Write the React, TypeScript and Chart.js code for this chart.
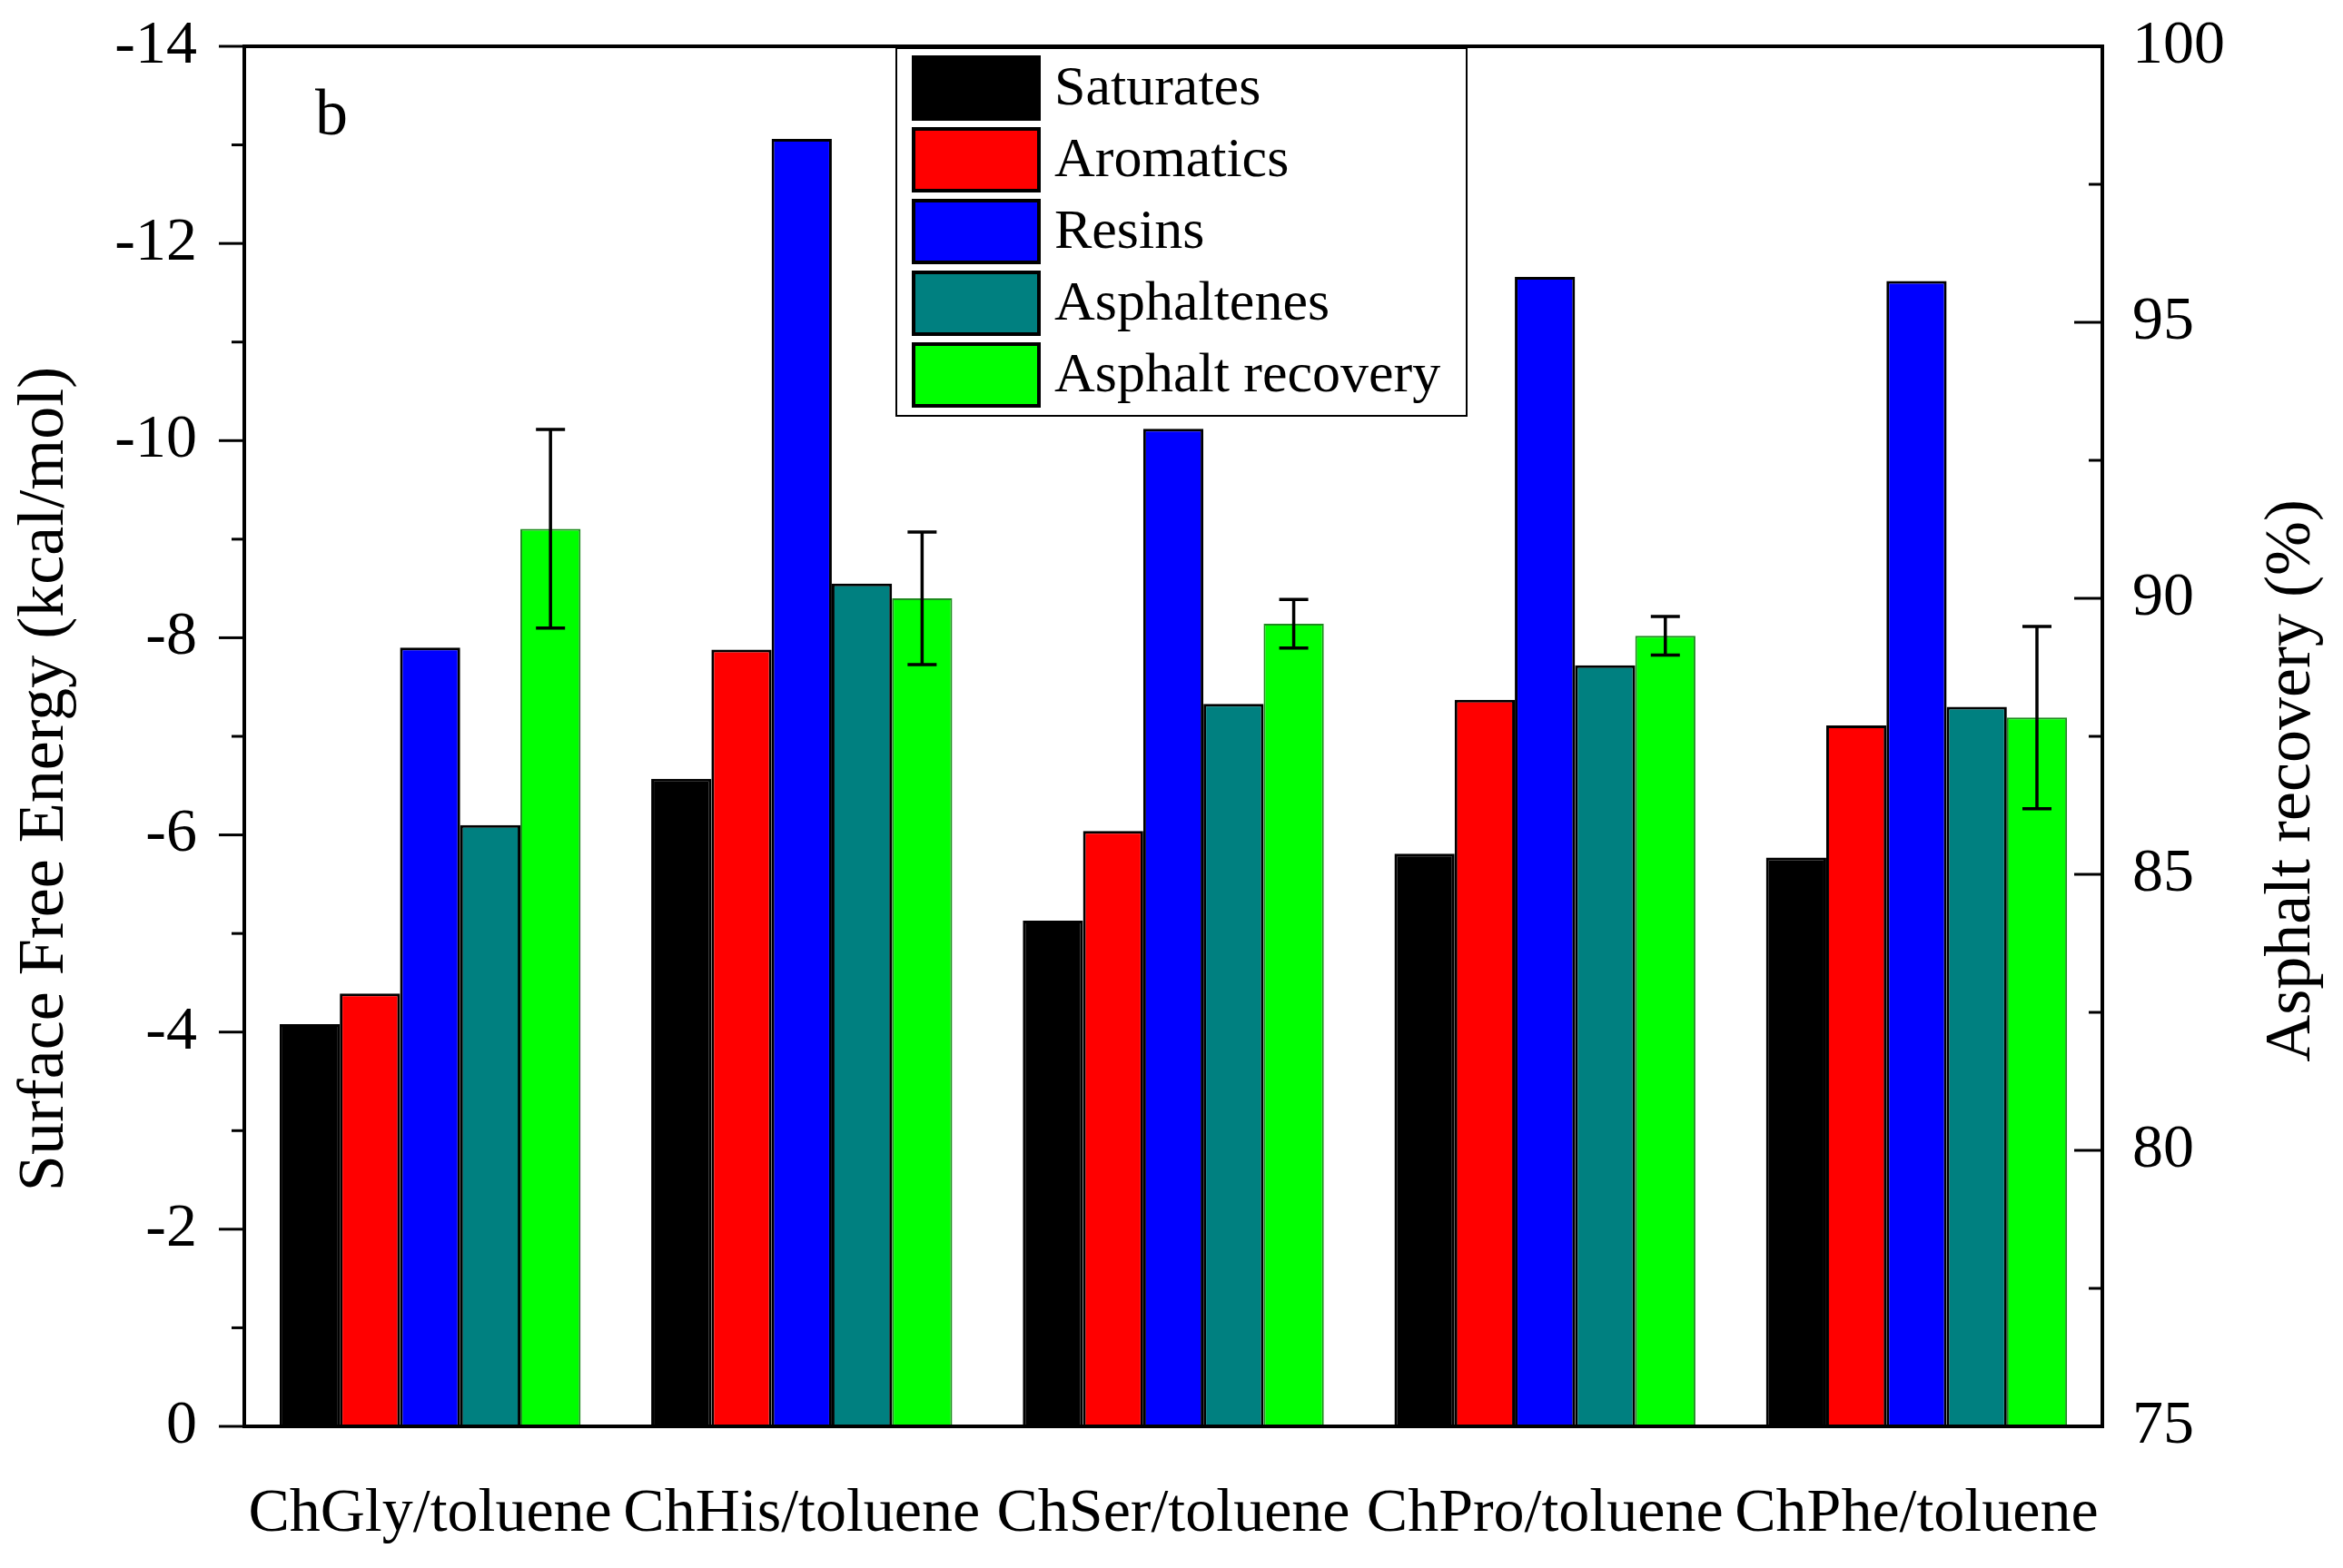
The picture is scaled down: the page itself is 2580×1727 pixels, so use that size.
import { useEffect, useRef } from "react"
import { Chart, registerables } from "chart.js"

Chart.register(...registerables)

const categories = ["ChGly/toluene", "ChHis/toluene", "ChSer/toluene", "ChPro/toluene", "ChPhe/toluene"]

// surface free energy (kcal/mol), left axis
const saturates = [-4.08, -6.57, -5.13, -5.81, -5.77]
const aromatics = [-4.39, -7.88, -6.04, -7.37, -7.11]
const resins = [-7.9, -13.06, -10.12, -11.66, -11.62]
const asphaltenes = [-6.1, -8.55, -7.33, -7.72, -7.3]

// asphalt recovery (%), right axis
const recovery = [91.26, 90.0, 89.54, 89.32, 87.84]
const recoveryErr = [1.8, 1.2, 0.44, 0.35, 1.65]

const SERIF = "'Liberation Serif', 'Times New Roman', serif"

// draws the frame, the tick marks (major + minor), error bars, legend and titles
const decorations = {
  id: "decorations",
  afterDatasetsDraw(chart: any) {
    const { ctx, chartArea } = chart
    const { left, right, top, bottom } = chartArea
    const yL = chart.scales.y
    const yR = chart.scales.y1

    ctx.save()

    // error bars on the recovery bars
    const meta = chart.getDatasetMeta(4)
    ctx.strokeStyle = "#000"
    ctx.lineWidth = 3.5
    meta.data.forEach((bar: any, i: number) => {
      const yt = yR.getPixelForValue(recovery[i] + recoveryErr[i])
      const yb = yR.getPixelForValue(recovery[i] - recoveryErr[i])
      ctx.beginPath()
      ctx.moveTo(bar.x, yt)
      ctx.lineTo(bar.x, yb)
      ctx.moveTo(bar.x - 16, yt)
      ctx.lineTo(bar.x + 16, yt)
      ctx.moveTo(bar.x - 16, yb)
      ctx.lineTo(bar.x + 16, yb)
      ctx.stroke()
    })

    // frame
    ctx.lineWidth = 4
    ctx.strokeRect(left, top, right - left, bottom - top)

    // left ticks, outward
    ctx.lineWidth = 3
    const lt = yL.ticks.map((t: any) => t.value)
    lt.forEach((v: number, i: number) => {
      const p = yL.getPixelForValue(v)
      ctx.beginPath()
      ctx.moveTo(left - 28, p)
      ctx.lineTo(left, p)
      ctx.stroke()
      if (i < lt.length - 1) {
        const m = yL.getPixelForValue((v + lt[i + 1]) / 2)
        ctx.beginPath()
        ctx.moveTo(left - 14, m)
        ctx.lineTo(left, m)
        ctx.stroke()
      }
    })

    // right ticks, inward
    const rt = yR.ticks.map((t: any) => t.value)
    rt.forEach((v: number, i: number) => {
      const p = yR.getPixelForValue(v)
      ctx.beginPath()
      ctx.moveTo(right - 31, p)
      ctx.lineTo(right, p)
      ctx.stroke()
      if (i < rt.length - 1) {
        const m = yR.getPixelForValue((v + rt[i + 1]) / 2)
        ctx.beginPath()
        ctx.moveTo(right - 15, m)
        ctx.lineTo(right, m)
        ctx.stroke()
      }
    })

    // legend box
    const lx = 987
    const ly = 53
    ctx.lineWidth = 2
    ctx.strokeRect(lx, ly, 628, 405)
    ctx.font = `62px ${SERIF}`
    ctx.textBaseline = "middle"
    ctx.textAlign = "left"
    chart.data.datasets.forEach((ds: any, i: number) => {
      const sy = ly + 10 + i * 79
      ctx.fillStyle = ds.backgroundColor
      ctx.fillRect(lx + 19, sy, 138, 68)
      ctx.lineWidth = 4
      ctx.strokeStyle = "#000"
      ctx.strokeRect(lx + 19, sy, 138, 68)
      ctx.fillStyle = "#000"
      ctx.fillText(ds.label, lx + 174, sy + 36)
    })

    // panel letter
    ctx.font = `72px ${SERIF}`
    ctx.textBaseline = "alphabetic"
    ctx.fillText("b", left + 78, top + 97)

    // axis titles
    ctx.textAlign = "center"
    ctx.textBaseline = "middle"
    ctx.save()
    ctx.translate(50, 858)
    ctx.rotate(-Math.PI / 2)
    ctx.fillText("Surface Free Energy (kcal/mol)", 0, 0)
    ctx.restore()
    ctx.save()
    ctx.translate(2524, 860)
    ctx.rotate(-Math.PI / 2)
    ctx.fillText("Asphalt recovery (%)", 0, 0)
    ctx.restore()

    ctx.restore()
  },
}

const fitY = (width: number) => (s: any) => {
  s.width = width
  s.paddingTop = 0
  s.paddingBottom = 0
}

export default function App() {
  const canvasRef = useRef<HTMLCanvasElement>(null)
  const chartRef = useRef<Chart | null>(null)

  useEffect(() => {
    document.body.style.margin = "0"
    document.body.style.overflow = "hidden"
    if (!canvasRef.current) return
    if (chartRef.current) chartRef.current.destroy()

    chartRef.current = new Chart(canvasRef.current, {
      type: "bar",
      data: {
        labels: categories,
        datasets: [
          { label: "Saturates", data: saturates, backgroundColor: "#000000", borderColor: "#000", borderWidth: 3, yAxisID: "y" },
          { label: "Aromatics", data: aromatics, backgroundColor: "#FF0000", borderColor: "#000", borderWidth: 3, yAxisID: "y" },
          { label: "Resins", data: resins, backgroundColor: "#0000FF", borderColor: "#000", borderWidth: 3, yAxisID: "y" },
          { label: "Asphaltenes", data: asphaltenes, backgroundColor: "#008080", borderColor: "#000", borderWidth: 3, yAxisID: "y" },
          { label: "Asphalt recovery", data: recovery, backgroundColor: "#00FF00", borderColor: "#1E8C1E", borderWidth: 2, yAxisID: "y1" },
        ],
      },
      options: {
        animation: false,
        responsive: true,
        maintainAspectRatio: false,
        layout: { padding: { top: 51, left: 0, right: 0, bottom: 0 } },
        datasets: {
          bar: { categoryPercentage: 0.81, barPercentage: 1.0 },
        },
        plugins: {
          legend: { display: false },
          tooltip: { enabled: false },
        },
        scales: {
          x: {
            grid: { display: false, drawTicks: false },
            border: { display: false },
            ticks: {
              autoSkip: false,
              maxRotation: 0,
              padding: 56,
              color: "#000",
              font: { family: SERIF, size: 68 },
            },
            afterFit: (s: any) => {
              s.height = 156
            },
          },
          y: {
            position: "left",
            min: -14,
            max: 0,
            reverse: true,
            grid: { display: false, drawTicks: false },
            border: { display: false },
            ticks: {
              stepSize: 2,
              padding: 52,
              color: "#000",
              font: { family: SERIF, size: 68 },
            },
            afterFit: fitY(269),
          },
          y1: {
            position: "right",
            min: 75,
            max: 100,
            grid: { display: false, drawTicks: false },
            border: { display: false },
            ticks: {
              stepSize: 5,
              padding: 33,
              color: "#000",
              font: { family: SERIF, size: 68 },
            },
            afterFit: fitY(265),
          },
        },
      },
      plugins: [decorations],
    })

    return () => {
      if (chartRef.current) {
        chartRef.current.destroy()
        chartRef.current = null
      }
    }
  }, [])

  return (
    <div style={{ width: 2580, height: 1727, position: "relative", background: "#fff" }}>
      <canvas ref={canvasRef} />
    </div>
  )
}
